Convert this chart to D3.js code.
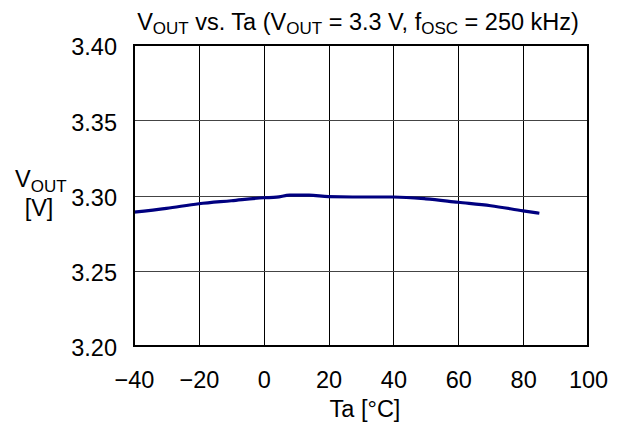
<!DOCTYPE html>
<html><head><meta charset="utf-8">
<script src="https://cdn.jsdelivr.net/npm/d3@7"></script>
<style>body{margin:0;background:#fff}svg{display:block}text{font-family:"Liberation Sans",Arial,sans-serif;fill:#000}</style>
</head><body>
<script>
const temps = [-40, -30, -20, -10, 0, 4, 8, 14, 20, 30, 40, 50, 60, 70, 80, 85];
const vout  = [3.289, 3.2915, 3.2945, 3.2965, 3.2985, 3.2989, 3.3002, 3.3003, 3.2992, 3.299, 3.299, 3.2978, 3.2955, 3.2932, 3.2898, 3.2882];
const xTicks = [-40, -20, 0, 20, 40, 60, 80, 100];
const yTicks = [3.20, 3.25, 3.30, 3.35, 3.40];

const W = 618, H = 425;
const FS = 23.5, SUB = 17;
const m = {left: 134, right: 588, top: 45, bottom: 346};
const svg = d3.select("body").append("svg").attr("width", W).attr("height", H);
const x = d3.scaleLinear().domain([-40, 100]).range([m.left, m.right]);
const y = d3.scaleLinear().domain([3.20, 3.40]).range([m.bottom, m.top]);

// grid
svg.append("g").selectAll("line").data(xTicks.slice(1, -1)).join("line")
  .attr("x1", d => Math.round(x(d)) + 0.5).attr("x2", d => Math.round(x(d)) + 0.5)
  .attr("y1", m.top).attr("y2", m.bottom).attr("stroke", "#000").attr("stroke-width", 1);
svg.append("g").selectAll("line").data(yTicks.slice(1, -1)).join("line")
  .attr("y1", d => Math.round(y(d)) + 0.5).attr("y2", d => Math.round(y(d)) + 0.5)
  .attr("x1", m.left).attr("x2", m.right).attr("stroke", "#444").attr("stroke-width", 1);

// data line
const line = d3.line().x((d, i) => x(temps[i])).y(d => y(d)).curve(d3.curveMonotoneX);
svg.append("path").datum(vout).attr("d", line).attr("fill", "none")
  .attr("stroke", "#000080").attr("stroke-width", 3.2).attr("stroke-linejoin", "round");

// frame
svg.append("rect").attr("x", m.left).attr("y", m.top).attr("width", m.right - m.left)
  .attr("height", m.bottom - m.top).attr("fill", "none").attr("stroke", "#000").attr("stroke-width", 2);

// axes
const yAxis = d3.axisLeft(y).tickValues(yTicks).tickFormat(d3.format(".2f")).tickSize(0).tickPadding(17);
const gy = svg.append("g").attr("transform", `translate(${m.left},0)`).call(yAxis);
gy.select(".domain").remove();
gy.selectAll("text").attr("font-size", FS).attr("dy", "0.42em")
  .attr("font-family", "Liberation Sans, Arial, sans-serif").attr("fill", "#000");

const xAxis = d3.axisBottom(x).tickValues(xTicks).tickFormat(d => d < 0 ? "\u2212" + Math.abs(d) : d).tickSize(0);
const gx = svg.append("g").attr("transform", `translate(0,${m.bottom})`).call(xAxis);
gx.select(".domain").remove();
gx.selectAll("text").attr("font-size", FS).attr("y", 42).attr("dy", 0)
  .attr("font-family", "Liberation Sans, Arial, sans-serif").attr("fill", "#000");

// title
const t = svg.append("text").attr("x", 358).attr("y", 30).attr("text-anchor", "middle").attr("font-size", FS);
t.append("tspan").text("V");
t.append("tspan").attr("font-size", SUB).attr("dy", 4).text("OUT");
t.append("tspan").attr("dy", -4).text(" vs. Ta (V");
t.append("tspan").attr("font-size", SUB).attr("dy", 4).text("OUT");
t.append("tspan").attr("dy", -4).text(" = 3.3 V, f");
t.append("tspan").attr("font-size", SUB).attr("dy", 4).text("OSC");
t.append("tspan").attr("dy", -4).text(" = 250 kHz)");

// x label
svg.append("text").attr("x", 365).attr("y", 417).attr("text-anchor", "middle").attr("font-size", FS).text("Ta [°C]");

// y label
const yl = svg.append("text").attr("x", 15).attr("y", 187).attr("font-size", FS);
yl.append("tspan").text("V");
yl.append("tspan").attr("font-size", SUB).attr("dy", 5).text("OUT");
svg.append("text").attr("x", 39).attr("y", 216).attr("text-anchor", "middle").attr("font-size", FS).text("[V]");
</script>
</body></html>
